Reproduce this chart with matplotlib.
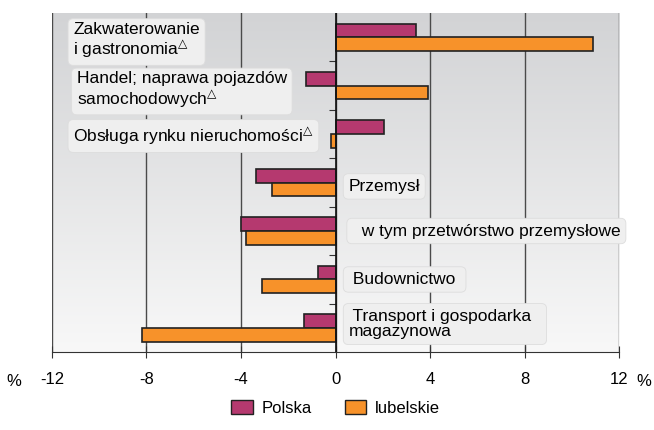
import matplotlib.pyplot as plt
import numpy as np
from matplotlib.patches import Patch

plt.rcParams['font.family'] = ['Liberation Sans', 'DejaVu Sans']

# categories from top to bottom
labels = [
    'Zakwaterowanie\ni gastronomia$^{\\bigtriangleup}$',
    'Handel; naprawa pojazdów\nsamochodowych$^{\\bigtriangleup}$',
    'Obsługa rynku nieruchomości$^{\\bigtriangleup}$',
    'Przemysł',
    '  w tym przetwórstwo przemysłowe',
    ' Budownictwo ',
    ' Transport i gospodarka  \nmagazynowa',
]
polska = [3.4, -1.25, 2.05, -3.35, -4.0, -0.75, -1.35]
lubelskie = [10.9, 3.9, -0.2, -2.7, -3.8, -3.1, -8.2]
xticks = [-12, -8, -4, 0, 4, 8, 12]

c_pl = '#b5396f'
c_lu = '#f7922a'

fig = plt.figure(figsize=(6.54, 4.30), dpi=100)
ax = fig.add_axes([0.0795, 0.181, 0.867, 0.789])

n = len(labels)
y = np.arange(n)
h = 0.28

# gradient background
grad = np.linspace(0, 1, 256).reshape(-1, 1)
ax.imshow(grad, aspect='auto', cmap=plt.matplotlib.colors.LinearSegmentedColormap.from_list(
    'bg', ['#d2d3d5', '#f8f8f8']), extent=[-12, 12, n - 0.5, -0.5], zorder=0)

ax.barh(y - h / 2, polska, height=h, color=c_pl, edgecolor='#222222', linewidth=1.2, zorder=3)
ax.barh(y + h / 2, lubelskie, height=h, color=c_lu, edgecolor='#222222', linewidth=1.2, zorder=3)

ax.set_xlim(-12, 12)
ax.set_ylim(n - 0.5, -0.5)
ax.set_xticks(xticks)
ax.set_xticklabels([str(v) for v in xticks], fontsize=12)
ax.grid(axis='x', color='#4a4a4a', linewidth=1.0, zorder=1)
ax.axvline(0, color='#111111', linewidth=1.2, zorder=4)
ax.tick_params(axis='x', direction='inout', length=8, color='#333333', pad=10)
ax.text(-0.067, -0.087, '%', transform=ax.transAxes, fontsize=12, ha='center', va='center')
ax.text(1.043, -0.087, '%', transform=ax.transAxes, fontsize=12, ha='center', va='center')

# y ticks at category boundaries on the zero line
ax.spines['left'].set_position(('data', 0))
ax.spines['left'].set_visible(False)
ax.spines['right'].set_visible(False)
ax.spines['top'].set_visible(False)
ax.spines['bottom'].set_color('#333333')
ax.set_yticks(np.arange(n - 1) + 0.5)
ax.set_yticklabels([])
ax.tick_params(axis='y', direction='out', length=5, color='#333333')

# category labels in boxes
pos = [(-11.1, 0.08), (-10.95, 0.1), (-11.1, 0.04), (0.55, 0.08), (0.7, 0), (0.55, 0), (0.55, -0.08)]
for (xp, dy), yp, t in zip(pos, y, labels):
    ax.text(xp, yp + dy, t, fontsize=12.5, va='center', ha='left', zorder=5, linespacing=1.05,
            bbox=dict(boxstyle='round,pad=0.3,rounding_size=0.3', fc='#efefef',
                      ec='#dddddd', lw=0.6))

ax.legend(handles=[Patch(fc=c_pl, ec='#222222', label='Polska'),
                   Patch(fc=c_lu, ec='#222222', label='lubelskie')],
          loc='center', bbox_to_anchor=(0.5, -0.165), ncol=2, frameon=False,
          fontsize=12, handlelength=1.3, handleheight=0.9, columnspacing=2.0,
          handletextpad=0.5)

fig.savefig('out.png', dpi=100)
